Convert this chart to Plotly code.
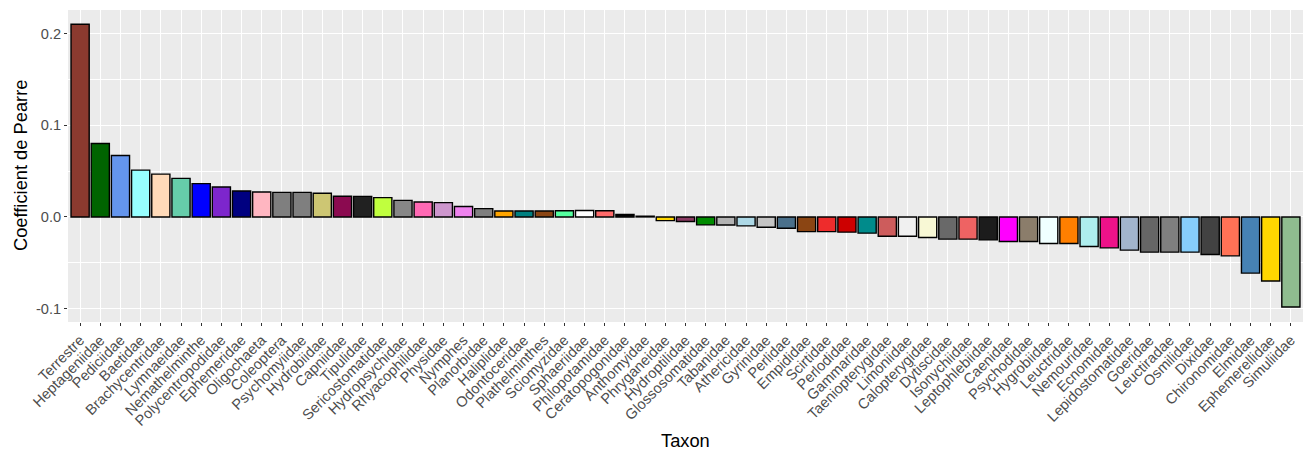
import plotly.graph_objects as go

taxa = ["Terrestre", "Heptageniidae", "Pediciidae", "Baetidae", "Brachycentridae", "Lymnaeidae",
        "Nemathelminthe", "Polycentropodidae", "Ephemeridae", "Oligochaeta", "Coleoptera",
        "Psychomyiidae", "Hydrobiidae", "Capniidae", "Tipulidae", "Sericostomatidae",
        "Hydropsychidae", "Rhyacophilidae", "Physidae", "Nymphes", "Planorbidae", "Haliplidae",
        "Odontoceridae", "Plathelminthes", "Sciomyzidae", "Sphaeriidae", "Philopotamidae",
        "Ceratopogonidae", "Anthomyidae", "Phryganeidae", "Hydroptilidae", "Glossosomatidae",
        "Tabanidae", "Athericidae", "Gyrinidae", "Perlidae", "Empididae", "Scirtidae",
        "Perlodidae", "Gammaridae", "Taeniopterygidae", "Limoniidae", "Calopterygidae",
        "Dytiscidae", "Isonychiidae", "Leptophlebiidae", "Caenidae", "Psychodidae",
        "Hygrobiidae", "Leuctridae", "Nemouridae", "Ecnomidae", "Lepidostomatidae", "Goeridae",
        "Leuctiradae", "Osmilidae", "Dixidae", "Chironomidae", "Elmidae", "Ephemerellidae",
        "Simuliidae"]

pearre = [0.210, 0.080, 0.067, 0.051, 0.0467, 0.042,
          0.0363, 0.0326, 0.0283, 0.0272, 0.0268,
          0.0268, 0.0258, 0.0225, 0.0224, 0.021,
          0.018, 0.0163, 0.0156, 0.0113, 0.0091, 0.0065,
          0.0065, 0.0065, 0.0067, 0.0070, 0.0067,
          0.0026, 0.0008, -0.004, -0.005, -0.0087,
          -0.0088, -0.0098, -0.0112, -0.0123, -0.016, -0.016,
          -0.0166, -0.0177, -0.021, -0.021, -0.0224,
          -0.0242, -0.0242, -0.025, -0.0268, -0.0268,
          -0.029, -0.029, -0.0322, -0.0337, -0.0362, -0.0384,
          -0.0384, -0.0384, -0.041, -0.0424, -0.0612, -0.0699,
          -0.0982]

colors = ["#8B3A2F", "#006400", "#6495ED", "#97FFFF", "#FFDAB9", "#66CDAA",
          "#0000FF", "#7D26CD", "#000080", "#FFB6C1", "#7F7F7F",
          "#7F7F7F", "#CDC673", "#8B0A50", "#212121", "#C0FF3E",
          "#878787", "#FF69B4", "#CD96CD", "#EE82EE", "#7F7F7F", "#FFA500",
          "#008080", "#8B4513", "#54FF9F", "#FFFFFF", "#FF6A6A",
          "#000000", "#7F7F7F", "#FFD700", "#8B3A62", "#008B00",
          "#B3B3B3", "#ADD8E6", "#C4C4C4", "#4A708B", "#8B4513", "#EE2C2C",
          "#CD0000", "#008B8B", "#CD5C5C", "#F0F0F0", "#F8F8D5",
          "#696969", "#EE6363", "#1C1C1C", "#FF00FF", "#8B7D6B",
          "#F0FFFF", "#FF7F00", "#AEEEEE", "#EE1289", "#A2B5CD", "#666666",
          "#7F7F7F", "#87CEFA", "#424242", "#FF7256", "#4682B4", "#FFD700",
          "#8FBC8F"]

y_ticks = [-0.1, 0.0, 0.1, 0.2]
y_tick_text = ["-0.1", "0.0", "0.1", "0.2"]

fig = go.Figure(go.Bar(
    x=taxa, y=pearre,
    marker=dict(color=colors, line=dict(color="black", width=1.4)),
    width=0.9,
))

font_family = "Liberation Sans, Arial, sans-serif"
fig.update_layout(
    width=1306, height=450,
    margin=dict(l=68, r=3, t=10, b=128),
    paper_bgcolor="white",
    plot_bgcolor="#EBEBEB",
    showlegend=False,
    bargap=0.1,
    font=dict(family=font_family, color="#4D4D4D"),
)
fig.update_xaxes(
    type="category",
    range=[-0.6, len(taxa) - 0.4],
    tickangle=-45,
    tickfont=dict(size=14.6, color="#4D4D4D"),
    showgrid=True, gridcolor="white", gridwidth=1.1,
    ticks="outside", ticklen=3, tickcolor="#333333", tickwidth=1,
    zeroline=False, showline=False, automargin=False,
)
fig.update_yaxes(
    range=[-0.1145, 0.2255],
    tickvals=y_ticks, ticktext=y_tick_text,
    tickfont=dict(size=14.6, color="#4D4D4D"),
    showgrid=True, gridcolor="white", gridwidth=1.1,
    minor=dict(dtick=0.05, tick0=0.05, showgrid=True, gridcolor="white", gridwidth=0.5),
    ticks="outside", ticklen=3, tickcolor="#333333", tickwidth=1,
    zeroline=False, showline=False, automargin=False,
)

fig.add_annotation(text="Taxon", xref="paper", yref="paper", x=0.5, y=(322 - 440) / 312,
                   xanchor="center", yanchor="middle", showarrow=False,
                   font=dict(size=18.3, color="black", family=font_family))
fig.add_annotation(text="Coefficient de Pearre", xref="paper", yref="paper",
                   x=(20 - 68) / 1235, y=0.5, textangle=-90,
                   xanchor="center", yanchor="middle", showarrow=False,
                   font=dict(size=18.3, color="black", family=font_family))

fig.write_html("out.html")
